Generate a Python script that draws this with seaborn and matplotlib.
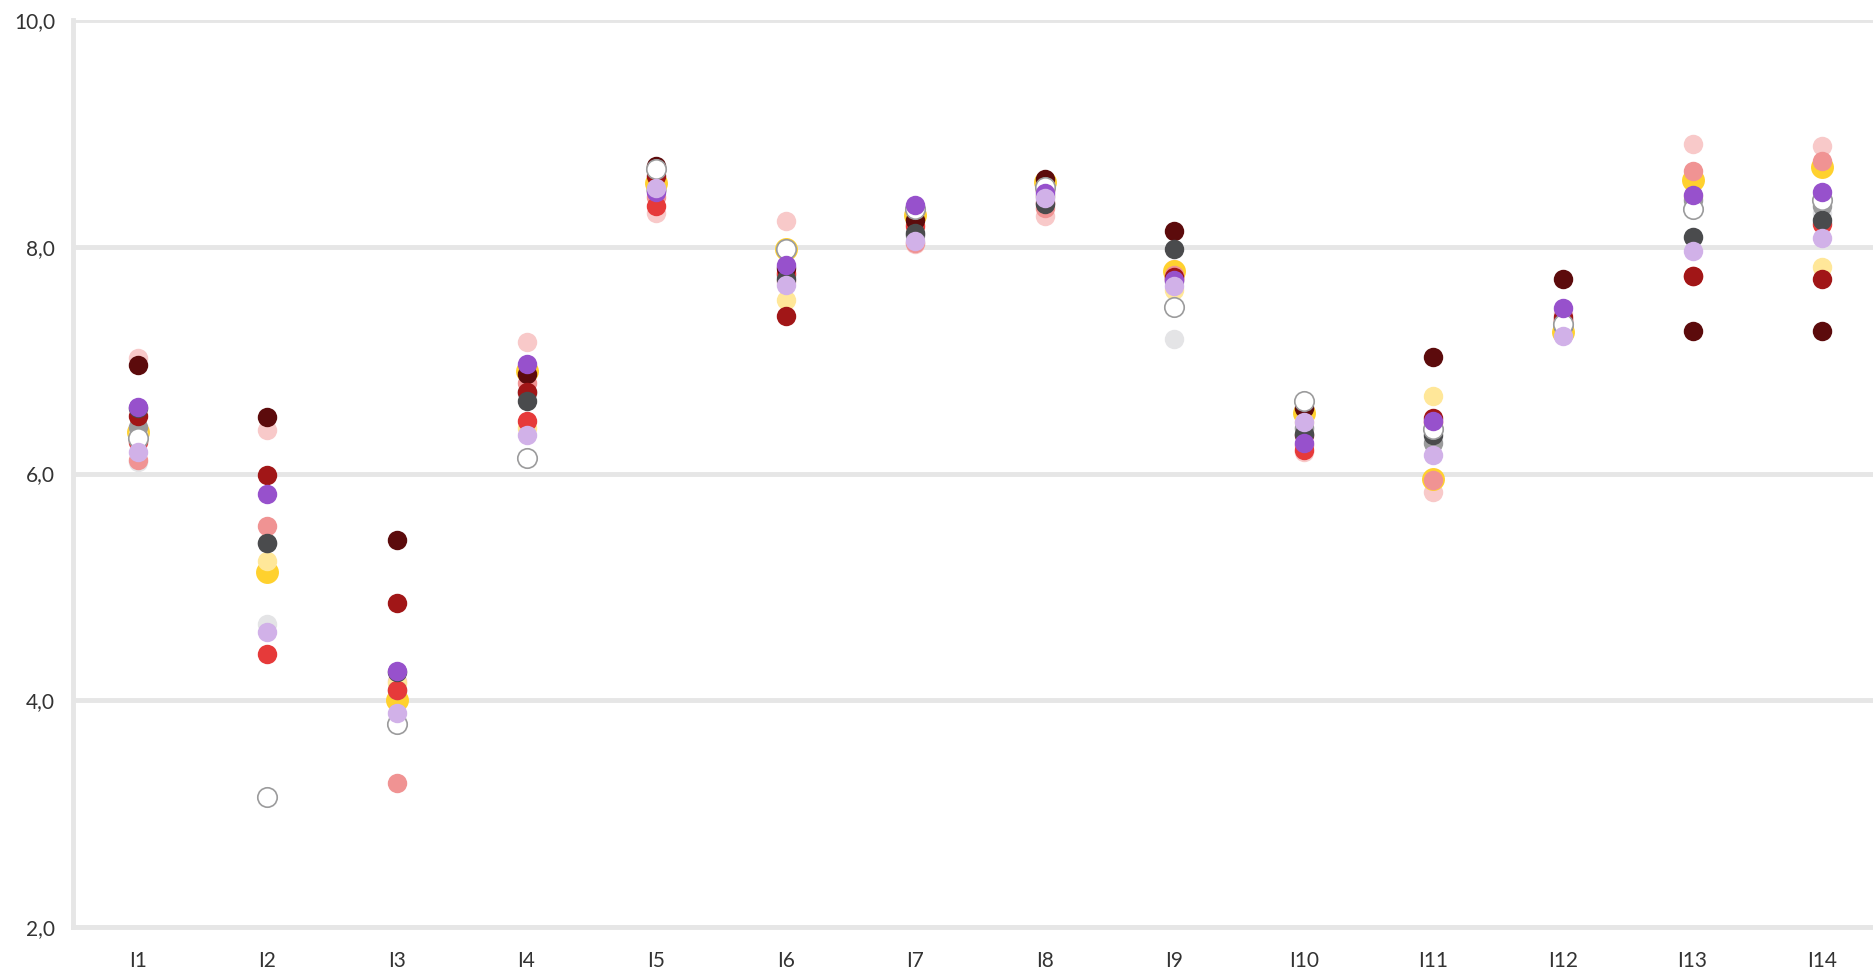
import matplotlib
matplotlib.use("Agg")
import matplotlib.pyplot as plt
import seaborn as sns

categories = ['I1', 'I2', 'I3', 'I4', 'I5', 'I6', 'I7', 'I8', 'I9', 'I10', 'I11', 'I12', 'I13', 'I14']

# series values, listed bottom -> top in drawing order
light_gray = [6.10, 4.67, 4.00, 6.70, 8.50, 7.75, 8.10, 8.40, 7.19, 6.40, 6.30, 7.30, 8.09, 8.30]
light_pink = [7.02, 6.38, 4.17, 7.16, 8.30, 8.23, 8.02, 8.27, 7.80, 6.19, 5.84, 7.42, 8.91, 8.89]
yellow = [6.37, 5.13, 4.00, 6.90, 8.56, 7.98, 8.28, 8.57, 7.79, 6.53, 5.95, 7.25, 8.59, 8.70]
light_yellow = [6.35, 5.23, 4.15, 6.40, 8.50, 7.53, 8.20, 8.45, 7.62, 6.45, 6.68, 7.30, 8.45, 7.82]
gray = [6.41, 5.39, 4.09, 6.72, 8.50, 7.75, 8.10, 8.45, 7.70, 6.40, 6.27, 7.30, 8.41, 8.36]
salmon = [6.12, 5.54, 3.27, 6.80, 8.44, 7.70, 8.03, 8.34, 7.75, 6.25, 5.94, 7.35, 8.67, 8.76]
red = [6.28, 4.41, 4.09, 6.46, 8.36, 7.77, 8.18, 8.39, 7.72, 6.21, 6.45, 7.35, 7.74, 8.20]
maroon = [6.96, 6.50, 5.41, 6.88, 8.71, 7.81, 8.24, 8.60, 8.14, 6.58, 7.03, 7.72, 7.26, 7.26]
dark_red = [6.51, 5.99, 4.86, 6.72, 8.62, 7.39, 8.33, 8.50, 7.73, 6.34, 6.49, 7.38, 7.74, 7.72]
dark_gray = [6.58, 5.39, 4.25, 6.64, 8.50, 7.72, 8.12, 8.38, 7.98, 6.35, 6.34, 7.30, 8.09, 8.24]
white = [6.31, 3.15, 3.79, 6.14, 8.69, 7.98, 8.33, 8.53, 7.47, 6.64, 6.39, 7.32, 8.33, 8.41]
purple = [6.59, 5.82, 4.26, 6.97, 8.48, 7.84, 8.37, 8.47, 7.71, 6.27, 6.46, 7.46, 8.46, 8.48]
lavender = [6.19, 4.60, 3.89, 6.34, 8.52, 7.66, 8.05, 8.43, 7.65, 6.45, 6.16, 7.21, 7.96, 8.08]

series = [
    (light_gray, '#e4e4e6'),
    (light_pink, '#f8c9c9'),
    (yellow, '#ffd12e'),
    (light_yellow, '#ffe799'),
    (gray, '#9b9b9c'),
    (salmon, '#f09393'),
    (red, '#e63a3a'),
    (maroon, '#5c0b0c'),
    (dark_red, '#a11617'),
    (dark_gray, '#4a4b4d'),
    (white, '#ffffff'),
    (purple, '#9751cc'),
    (lavender, '#d1b1e8'),
]

grid_color = '#e6e6e6'
text_color = '#333333'

sns.set_style('white')
plt.rcParams['font.family'] = ['Lato', 'DejaVu Sans']

fig = plt.figure(figsize=(18.74, 9.76), dpi=100)
ax = fig.add_axes([0.039, 0.0502, 0.961, 0.9293])

for vals, col in series:
    big = col == '#ffd12e'
    edge = '#9b9b9c' if col == '#ffffff' else col
    sns.stripplot(x=categories, y=vals, order=categories, jitter=False,
                  color=col, size=16.5 if big else 14,
                  edgecolor=edge, linewidth=1.2 if col == '#ffffff' else 0,
                  ax=ax, zorder=3)

ax.set_ylim(2, 10)
ax.set_xlim(-0.5, 13.4)
ax.set_yticks([2, 4, 6, 8, 10])
ax.set_yticklabels(['2,0', '4,0', '6,0', '8,0', '10,0'])
ax.yaxis.grid(True, color=grid_color, linewidth=3.5, zorder=0)
ax.xaxis.grid(False)
ax.set_axisbelow(True)

for side in ['top', 'right']:
    ax.spines[side].set_visible(False)
for side in ['left', 'bottom']:
    ax.spines[side].set_color(grid_color)
    ax.spines[side].set_linewidth(3.5)

ax.tick_params(axis='both', length=0, labelsize=15, colors=text_color)
ax.tick_params(axis='y', pad=13)
ax.tick_params(axis='x', pad=17)
ax.set_xlabel('')
ax.set_ylabel('')

fig.savefig('out.png', dpi=100)
plt.close()
